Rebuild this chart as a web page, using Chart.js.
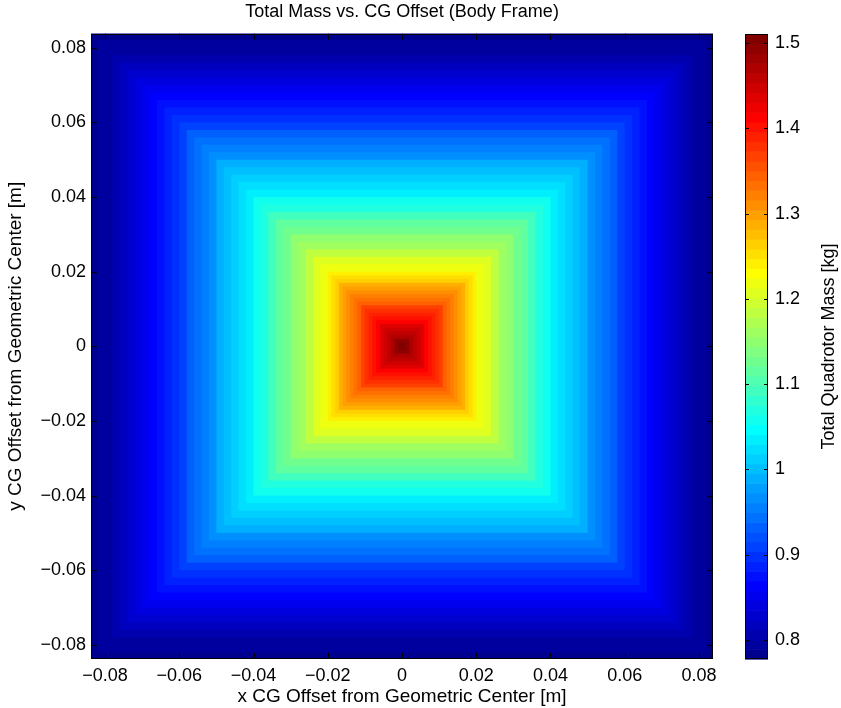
<!DOCTYPE html>
<html lang="en">
<head>
  <meta charset="UTF-8">
  <title>Total Mass vs. CG Offset (Body Frame)</title>
  <script src="https://cdn.jsdelivr.net/npm/chart.js"></script>
  <style>
    body { margin: 0; background: #fff; }
    #wrap { position: relative; width: 841px; height: 708px; }
    canvas { position: absolute; top: 0; }
    #massChart { left: 0; }
    #barChart { left: 735px; }
  </style>
</head>
<body>
  <div id="wrap">
    <canvas id="massChart" width="735" height="708"></canvas>
    <canvas id="barChart" width="106" height="708"></canvas>
  </div>

  <script>
    // square rings of CG offset: ring i covers max(|x|,|y|) between ringEdges[i] and ringEdges[i+1] [m]
    const ringEdges = [
      0, 0.001, 0.002, 0.003, 0.004, 0.005, 0.006, 0.007, 0.008, 0.009, 0.010,
      0.011, 0.012, 0.013, 0.014, 0.015, 0.016, 0.017, 0.018, 0.019, 0.020,
      0.022, 0.024, 0.026, 0.028, 0.030, 0.032, 0.034, 0.036, 0.038, 0.040,
      0.042, 0.044, 0.046, 0.048, 0.050, 0.052, 0.054, 0.056, 0.058, 0.060,
      0.062, 0.064, 0.066, 0.068, 0.070, 0.072, 0.074, 0.076, 0.078, 0.080,
      0.082, 0.084
    ];
    // total quadrotor mass in each ring [kg]
    const ringMass = [
      1.504, 1.490, 1.475, 1.461, 1.447, 1.432, 1.418, 1.404, 1.390, 1.377,
      1.363, 1.349, 1.336, 1.322, 1.309, 1.295, 1.282, 1.268, 1.255, 1.241,
      1.222, 1.203, 1.185, 1.166, 1.148, 1.130, 1.112, 1.093, 1.075, 1.057,
      1.040, 1.026, 1.012, 0.998, 0.984, 0.970, 0.956, 0.942, 0.928, 0.914,
      0.900, 0.885, 0.871, 0.858, 0.849, 0.839, 0.829, 0.820, 0.810, 0.800,
      0.791, 0.781
    ];
    const offsetTicks = [-0.08, -0.06, -0.04, -0.02, 0, 0.02, 0.04, 0.06, 0.08];
    const massTicks = [0.8, 0.9, 1, 1.1, 1.2, 1.3, 1.4, 1.5];
    const offsetLimit = 0.0838;
    const massMin = 0.7777;
    const massMax = 1.5106;

    Chart.defaults.color = '#000';
    Chart.defaults.font.family = '"Liberation Sans", Arial, sans-serif';
    Chart.defaults.font.size = 18;

    // matlab jet(64)
    const jetU = [];
    for (let i = 1; i <= 16; i++) jetU.push(i / 16);
    for (let i = 0; i < 15; i++) jetU.push(1);
    for (let i = 16; i >= 1; i--) jetU.push(i / 16);
    const jetMap = [];
    for (let r = 0; r < 64; r++) jetMap.push([0, 0, 0]);
    jetU.forEach((u, i) => {
      const g = 8 + i, r = g + 16, b = g - 16;   // 0-based rows
      if (r < 64) jetMap[r][0] = u;
      if (g < 64) jetMap[g][1] = u;
      if (b >= 0 && b < 64) jetMap[b][2] = u;
    });
    const rgb = c => `rgb(${Math.round(c[0] * 255)},${Math.round(c[1] * 255)},${Math.round(c[2] * 255)})`;
    const massColor = m => {
      let k = Math.floor((m - massMin) / (massMax - massMin) * 64);
      k = Math.max(0, Math.min(63, k));
      return rgb(jetMap[k]);
    };

    const fmtTick = v => {
      const s = String(parseFloat(Number(v).toFixed(2)));
      return s.replace('-', '\u2212');
    };

    // inward tick marks + box, matlab style
    const drawBox = (chart, scales, len) => {
      const { ctx, chartArea: a } = chart;
      ctx.save();
      ctx.strokeStyle = '#000';
      ctx.lineWidth = 1;
      ctx.beginPath();
      scales.forEach(sc => {
        if (!sc.options.display) return;
        sc.ticks.forEach(t => {
          const p = Math.round(sc.getPixelForValue(t.value)) + 0.5;
          if (sc.isHorizontal()) {
            ctx.moveTo(p, a.bottom); ctx.lineTo(p, a.bottom - len);
            ctx.moveTo(p, a.top); ctx.lineTo(p, a.top + len);
          } else {
            ctx.moveTo(a.left, p); ctx.lineTo(a.left + len, p);
            ctx.moveTo(a.right, p); ctx.lineTo(a.right - len, p);
          }
        });
      });
      ctx.stroke();
      ctx.strokeRect(Math.round(a.left) + 0.5, Math.round(a.top) + 0.5,
        Math.round(a.width) - 1, Math.round(a.height) - 1);
      ctx.restore();
    };

    const ringPlugin = {
      id: 'rings',
      beforeDatasetsDraw(chart) {
        const { ctx, chartArea: a, scales: { x, y } } = chart;
        const pts = chart.data.datasets[0].data;
        ctx.save();
        ctx.beginPath();
        ctx.rect(a.left, a.top, a.width, a.height);
        ctx.clip();
        for (let i = pts.length - 1; i >= 0; i--) {
          const e = pts[i].x;
          const x0 = x.getPixelForValue(-e), x1 = x.getPixelForValue(e);
          const y0 = y.getPixelForValue(e), y1 = y.getPixelForValue(-e);
          ctx.fillStyle = massColor(pts[i].mass);
          ctx.fillRect(x0, y0, x1 - x0, y1 - y0);
        }
        ctx.restore();
      },
      afterDraw(chart) {
        drawBox(chart, [chart.scales.x, chart.scales.y], 6);
      }
    };

    new Chart(document.getElementById('massChart'), {
      type: 'scatter',
      data: {
        datasets: [{
          label: 'Total Quadrotor Mass',
          data: ringMass.map((m, i) => ({ x: ringEdges[i + 1], y: ringEdges[i + 1], mass: m })),
          pointRadius: 0,
          showLine: false
        }]
      },
      options: {
        responsive: false,
        animation: false,
        layout: { padding: { top: 0, right: 22, left: 0, bottom: 0 } },
        plugins: {
          legend: { display: false },
          tooltip: { enabled: false },
          title: {
            display: true,
            text: 'Total Mass vs. CG Offset (Body Frame)',
            fullSize: false,
            font: { size: 18, weight: 'normal' },
            padding: { top: 1, bottom: 11 }
          }
        },
        scales: {
          x: {
            type: 'linear',
            min: -offsetLimit,
            max: offsetLimit,
            afterFit: s => { s.height = 49; },
            grid: { display: false, drawTicks: false },
            border: { display: false },
            ticks: { stepSize: 0.02, includeBounds: false, padding: 6, maxRotation: 0, callback: fmtTick },
            afterBuildTicks: s => { s.ticks = offsetTicks.map(v => ({ value: v })); },
            title: { display: true, text: 'x CG Offset from Geometric Center [m]', font: { size: 19 }, padding: 0 }
          },
          y: {
            type: 'linear',
            min: -offsetLimit,
            max: offsetLimit,
            afterFit: s => { s.width = 91; },
            grid: { display: false, drawTicks: false },
            border: { display: false },
            ticks: { stepSize: 0.02, includeBounds: false, padding: 5, callback: fmtTick },
            afterBuildTicks: s => { s.ticks = offsetTicks.map(v => ({ value: v })); },
            title: { display: true, text: 'y CG Offset from Geometric Center [m]', font: { size: 19 }, padding: { top: 4 } }
          }
        }
      },
      plugins: [ringPlugin]
    });

    // colorbar
    const barPlugin = {
      id: 'colorbar',
      beforeDatasetsDraw(chart) {
        const { ctx, chartArea: a, scales: { y } } = chart;
        const step = (massMax - massMin) / 64;
        ctx.save();
        for (let k = 0; k < 64; k++) {
          const top = y.getPixelForValue(massMin + (k + 1) * step);
          const bot = y.getPixelForValue(massMin + k * step);
          ctx.fillStyle = rgb(jetMap[k]);
          ctx.fillRect(a.left, top, a.width, bot - top + 0.6);
        }
        ctx.restore();
      },
      afterDraw(chart) {
        const { ctx, chartArea: a } = chart;
        drawBox(chart, [chart.scales.y], 4);
        ctx.save();
        ctx.translate(94, (a.top + a.bottom) / 2);
        ctx.rotate(-Math.PI / 2);
        ctx.fillStyle = '#000';
        ctx.font = '18px "Liberation Sans", Arial, sans-serif';
        ctx.textAlign = 'center';
        ctx.textBaseline = 'middle';
        ctx.fillText('Total Quadrotor Mass [kg]', 0, 0);
        ctx.restore();
      }
    };

    new Chart(document.getElementById('barChart'), {
      type: 'scatter',
      data: { datasets: [{ label: 'colorbar', data: [], pointRadius: 0 }] },
      options: {
        responsive: false,
        animation: false,
        layout: { padding: { top: 34, bottom: 49, left: 10, right: 0 } },
        plugins: { legend: { display: false }, tooltip: { enabled: false } },
        scales: {
          x: { display: false, min: 0, max: 1 },
          y: {
            position: 'right',
            min: massMin,
            max: massMax,
            afterFit: s => { s.width = 73; },
            grid: { display: false, drawTicks: false },
            border: { display: false },
            ticks: { padding: 7, callback: fmtTick },
            afterBuildTicks: s => { s.ticks = massTicks.map(v => ({ value: v })); }
          }
        }
      },
      plugins: [barPlugin]
    });
  </script>
</body>
</html>
